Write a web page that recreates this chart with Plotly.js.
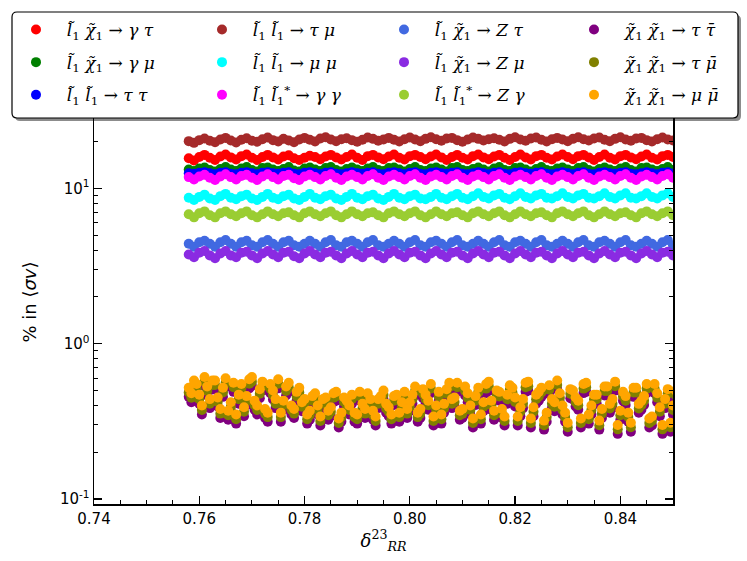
<!DOCTYPE html>
<html>
<head>
<meta charset="utf-8">
<script src="https://cdn.plot.ly/plotly-3.0.1.min.js"></script>
<style>html,body{margin:0;padding:0;background:#fff;}#chart{width:747px;height:561px;}</style>
</head>
<body>
<div id="chart"></div>
<script>
// ---- data ----
const delta = [
0.758,0.759,0.760,0.761,0.762,0.763,0.764,0.765,0.766,0.767,
0.768,0.769,0.770,0.771,0.772,0.773,0.774,0.775,0.776,0.777,
0.778,0.779,0.780,0.781,0.782,0.783,0.784,0.785,0.786,0.787,
0.788,0.789,0.790,0.791,0.792,0.793,0.794,0.795,0.796,0.797,
0.798,0.799,0.800,0.801,0.802,0.803,0.804,0.805,0.806,0.807,
0.808,0.809,0.810,0.811,0.812,0.813,0.814,0.815,0.816,0.817,
0.818,0.819,0.820,0.821,0.822,0.823,0.824,0.825,0.826,0.827,
0.828,0.829,0.830,0.831,0.832,0.833,0.834,0.835,0.836,0.837,
0.838,0.839,0.840,0.841,0.842,0.843,0.844,0.845,0.846,0.847,
0.848,0.849,0.850,0.851];
const deltaHalf = [
0.7585,0.7595,0.7605,0.7615,0.7625,0.7635,0.7645,0.7655,0.7665,0.7675,
0.7685,0.7695,0.7705,0.7715,0.7725,0.7735,0.7745,0.7755,0.7765,0.7775,
0.7785,0.7795,0.7805,0.7815,0.7825,0.7835,0.7845,0.7855,0.7865,0.7875,
0.7885,0.7895,0.7905,0.7915,0.7925,0.7935,0.7945,0.7955,0.7965,0.7975,
0.7985,0.7995,0.8005,0.8015,0.8025,0.8035,0.8045,0.8055,0.8065,0.8075,
0.8085,0.8095,0.8105,0.8115,0.8125,0.8135,0.8145,0.8155,0.8165,0.8175,
0.8185,0.8195,0.8205,0.8215,0.8225,0.8235,0.8245,0.8255,0.8265,0.8275,
0.8285,0.8295,0.8305,0.8315,0.8325,0.8335,0.8345,0.8355,0.8365,0.8375,
0.8385,0.8395,0.8405,0.8415,0.8425,0.8435,0.8445,0.8455,0.8465,0.8475,
0.8485,0.8495,0.8505,0.8515];

const gammaTau = [
15.6,15.1,15.9,16.4,15.7,15.2,16.0,16.5,15.8,15.3,
16.1,16.5,15.7,15.2,15.9,16.4,15.8,15.3,16.0,16.3,
15.6,15.2,15.7,16.2,15.9,15.4,16.0,16.4,15.8,15.3,
15.9,16.5,15.7,15.2,16.1,16.4,15.8,15.4,16.0,16.5,
15.7,15.3,16.1,16.4,15.9,15.4,16.0,16.5,15.8,15.2,
15.9,16.4,15.7,15.3,16.1,16.5,15.8,15.4,16.0,16.4,
15.7,15.2,15.9,16.5,15.8,15.3,16.1,16.4,15.7,15.3,
16.0,16.5,15.9,15.4,16.1,16.4,15.8,15.2,15.9,16.5,
15.7,15.3,16.1,16.4,15.8,15.4,16.0,16.5,15.7,15.3,
16.1,16.4,15.9,15.5];
const gammaMu = [
13.2,12.9,13.4,13.6,13.1,12.8,13.3,13.7,13.2,12.9,
13.4,13.7,13.1,12.8,13.5,13.6,13.2,12.9,13.3,13.7,
13.0,12.8,13.4,13.6,13.2,12.9,13.5,13.7,13.1,12.8,
13.3,13.6,13.2,12.9,13.4,13.7,13.1,12.9,13.5,13.6,
13.2,12.8,13.3,13.7,13.1,12.9,13.4,13.6,13.2,12.8,
13.5,13.7,13.1,12.9,13.3,13.6,13.2,12.8,13.4,13.7,
13.1,12.9,13.5,13.6,13.2,12.8,13.3,13.7,13.1,12.9,
13.4,13.6,13.2,12.9,13.5,13.7,13.1,12.8,13.3,13.6,
13.2,12.9,13.4,13.7,13.1,12.8,13.5,13.6,13.2,12.9,
13.3,13.7,13.1,12.9];
const tauTau = [
12.5,12.4,12.6,12.7,12.5,12.3,12.6,12.7,12.4,12.3,
12.6,12.7,12.5,12.3,12.6,12.7,12.5,12.4,12.6,12.7,
12.4,12.3,12.6,12.7,12.5,12.3,12.6,12.7,12.4,12.3,
12.5,12.7,12.5,12.4,12.6,12.7,12.4,12.3,12.6,12.7,
12.5,12.3,12.6,12.7,12.4,12.3,12.6,12.7,12.5,12.4,
12.6,12.7,12.4,12.3,12.5,12.7,12.5,12.3,12.6,12.7,
12.4,12.3,12.6,12.7,12.5,12.4,12.6,12.7,12.4,12.3,
12.5,12.7,12.5,12.3,12.6,12.7,12.4,12.3,12.6,12.7,
12.5,12.4,12.6,12.7,12.4,12.3,12.5,12.7,12.5,12.3,
12.6,12.7,12.4,12.4];
const tauMu = [
20.1,19.6,20.4,20.9,20.2,19.8,20.6,21.1,20.3,19.7,
20.5,21.0,20.2,19.9,20.7,21.2,20.4,20.0,20.8,20.3,
19.8,20.6,21.1,20.5,20.0,20.9,21.3,20.6,20.1,20.7,
21.0,20.4,19.9,20.5,21.2,20.8,20.2,20.6,21.1,20.5,
20.0,20.7,21.2,20.6,20.1,20.8,21.3,20.7,20.2,20.9,
21.1,20.4,19.9,20.6,21.2,20.8,20.3,20.7,21.0,20.5,
20.0,20.8,21.3,20.6,20.2,20.9,21.2,20.5,20.0,20.7,
21.1,20.6,20.1,20.8,21.3,20.7,20.3,20.9,21.2,20.5,
20.1,20.8,21.3,20.6,20.2,20.9,21.1,20.4,20.0,20.7,
21.2,20.6,20.3,20.9];
const muMu = [
8.7,8.4,8.8,9.1,8.6,8.4,8.9,9.2,8.7,8.5,
8.9,9.1,8.6,8.4,8.8,9.2,8.7,8.5,8.9,9.1,
8.6,8.4,8.8,9.2,8.7,8.5,8.9,9.1,8.6,8.4,
8.8,9.2,8.7,8.5,8.9,9.1,8.6,8.4,8.8,9.2,
8.7,8.5,8.9,9.1,8.6,8.5,8.8,9.2,8.7,8.5,
8.9,9.2,8.7,8.5,8.9,9.3,8.8,8.6,9.0,9.2,
8.7,8.5,8.9,9.3,8.8,8.6,9.0,9.2,8.7,8.6,
8.9,9.3,8.8,8.6,9.0,9.2,8.7,8.6,8.9,9.3,
8.8,8.6,9.0,9.3,8.7,8.6,8.9,9.3,8.8,8.6,
9.0,9.3,8.8,8.7];
const gammaGamma = [
11.8,11.4,11.9,12.2,11.7,11.3,11.9,12.3,11.8,11.4,
12.0,12.2,11.7,11.3,11.9,12.3,11.8,11.4,12.0,12.2,
11.6,11.3,11.9,12.2,11.8,11.4,12.0,12.3,11.7,11.3,
11.9,12.2,11.8,11.4,12.0,12.3,11.7,11.3,11.9,12.2,
11.8,11.4,12.0,12.3,11.7,11.3,11.9,12.2,11.8,11.4,
12.0,12.3,11.7,11.3,11.9,12.2,11.8,11.4,12.0,12.3,
11.7,11.3,11.9,12.2,11.8,11.4,12.0,12.3,11.7,11.3,
11.9,12.2,11.8,11.4,12.0,12.3,11.7,11.3,11.9,12.2,
11.8,11.4,12.0,12.3,11.7,11.3,11.9,12.2,11.8,11.4,
12.0,12.3,11.7,11.5];
const zTau = [
4.40,4.20,4.50,4.60,4.40,4.20,4.50,4.65,4.40,4.20,
4.50,4.60,4.30,4.20,4.50,4.65,4.40,4.20,4.50,4.60,
4.30,4.20,4.40,4.60,4.40,4.20,4.50,4.65,4.30,4.20,
4.50,4.60,4.40,4.20,4.50,4.65,4.30,4.20,4.40,4.60,
4.40,4.20,4.50,4.65,4.30,4.20,4.50,4.60,4.40,4.20,
4.50,4.65,4.30,4.20,4.40,4.60,4.40,4.20,4.50,4.65,
4.30,4.20,4.50,4.60,4.40,4.20,4.50,4.65,4.30,4.20,
4.40,4.60,4.40,4.20,4.50,4.65,4.30,4.20,4.50,4.60,
4.40,4.20,4.50,4.65,4.30,4.20,4.40,4.60,4.40,4.20,
4.50,4.65,4.30,4.30];
const zMu = [
3.75,3.60,3.85,3.95,3.70,3.55,3.80,3.95,3.70,3.60,
3.85,3.90,3.70,3.55,3.80,3.95,3.75,3.60,3.85,3.90,
3.65,3.55,3.80,3.95,3.75,3.60,3.85,3.90,3.70,3.55,
3.80,3.95,3.75,3.60,3.85,3.90,3.70,3.55,3.80,3.95,
3.75,3.60,3.85,3.90,3.70,3.55,3.80,3.95,3.75,3.60,
3.85,3.90,3.70,3.55,3.80,3.95,3.75,3.60,3.85,3.90,
3.70,3.55,3.80,3.95,3.75,3.60,3.85,3.90,3.70,3.55,
3.80,3.95,3.75,3.60,3.85,3.90,3.70,3.55,3.80,3.95,
3.75,3.60,3.85,3.90,3.70,3.55,3.80,3.95,3.75,3.60,
3.85,3.90,3.70,3.60];
const zGamma = [
6.8,6.5,6.9,7.1,6.7,6.5,6.9,7.1,6.8,6.6,
6.9,7.1,6.7,6.5,6.8,7.1,6.8,6.6,6.9,7.0,
6.7,6.5,6.9,7.1,6.8,6.6,6.9,7.1,6.7,6.5,
6.8,7.1,6.8,6.6,6.9,7.0,6.7,6.5,6.9,7.1,
6.8,6.6,6.9,7.1,6.7,6.5,6.8,7.1,6.8,6.6,
6.9,7.0,6.7,6.5,6.9,7.1,6.8,6.6,6.9,7.1,
6.7,6.5,6.8,7.1,6.8,6.6,6.9,7.0,6.7,6.5,
6.9,7.1,6.8,6.6,6.9,7.1,6.7,6.5,6.8,7.1,
6.8,6.6,6.9,7.0,6.7,6.5,6.9,7.1,6.8,6.6,
6.9,7.1,6.7,6.6];

// low group: first block at `delta`, second block at `deltaHalf`
const tauTauBarA = [
0.455,0.508,0.411,0.534,0.385,0.508,0.333,0.525,0.368,0.306,
0.481,0.403,0.534,0.350,0.499,0.315,0.438,0.516,0.376,0.490,
0.333,0.455,0.385,0.324,0.420,0.298,0.394,0.341,0.429,0.315,
0.376,0.411,0.306,0.359,0.420,0.324,0.385,0.438,0.341,0.403,
0.315,0.429,0.368,0.464,0.333,0.411,0.481,0.350,0.306,0.446,
0.385,0.490,0.333,0.420,0.289,0.455,0.368,0.499,0.324,0.429,
0.298,0.473,0.394,0.341,0.490,0.289,0.411,0.455,0.315,0.385,
0.508,0.350,0.271,0.438,0.376,0.481,0.306,0.411,0.280,0.464,
0.359,0.499,0.324,0.403,0.271,0.455,0.376,0.481,0.298,0.420,
0.263,0.446,0.350,0.473];
const tauTauBarB = [
0.420,0.481,0.350,0.464,0.508,0.394,0.455,0.324,0.490,0.411,
0.341,0.516,0.376,0.446,0.333,0.481,0.385,0.315,0.464,0.350,
0.429,0.368,0.306,0.403,0.350,0.385,0.324,0.420,0.289,0.394,
0.350,0.315,0.429,0.333,0.385,0.298,0.403,0.359,0.306,0.411,
0.368,0.333,0.411,0.315,0.446,0.376,0.298,0.429,0.359,0.490,
0.394,0.324,0.464,0.350,0.403,0.306,0.481,0.376,0.438,0.333,
0.411,0.455,0.298,0.385,0.499,0.341,0.429,0.280,0.473,0.368,
0.420,0.315,0.446,0.394,0.289,0.490,0.350,0.411,0.333,0.464,
0.385,0.263,0.429,0.315,0.455,0.359,0.403,0.289,0.481,0.341,
0.385,0.271,0.438,0.324];
const tauMuBarA = [
0.486,0.542,0.439,0.570,0.411,0.542,0.355,0.561,0.393,0.327,
0.514,0.430,0.570,0.374,0.533,0.337,0.468,0.552,0.402,0.524,
0.355,0.486,0.411,0.346,0.449,0.318,0.421,0.365,0.458,0.337,
0.402,0.439,0.327,0.383,0.449,0.346,0.411,0.468,0.365,0.430,
0.337,0.458,0.393,0.496,0.355,0.439,0.514,0.374,0.327,0.477,
0.411,0.524,0.355,0.449,0.309,0.486,0.393,0.533,0.346,0.458,
0.318,0.505,0.421,0.365,0.524,0.309,0.439,0.486,0.337,0.411,
0.542,0.374,0.290,0.468,0.402,0.514,0.327,0.439,0.299,0.496,
0.383,0.533,0.346,0.430,0.290,0.486,0.402,0.514,0.318,0.449,
0.281,0.477,0.374,0.505];
const tauMuBarB = [
0.449,0.514,0.374,0.496,0.542,0.421,0.486,0.346,0.524,0.439,
0.365,0.552,0.402,0.477,0.355,0.514,0.411,0.337,0.496,0.374,
0.458,0.393,0.327,0.430,0.374,0.411,0.346,0.449,0.309,0.421,
0.374,0.337,0.458,0.355,0.411,0.318,0.430,0.383,0.327,0.439,
0.393,0.355,0.439,0.337,0.477,0.402,0.318,0.458,0.383,0.524,
0.421,0.346,0.496,0.374,0.430,0.327,0.514,0.402,0.468,0.355,
0.439,0.486,0.318,0.411,0.533,0.365,0.458,0.299,0.505,0.393,
0.449,0.337,0.477,0.421,0.309,0.524,0.374,0.439,0.355,0.496,
0.411,0.281,0.458,0.337,0.486,0.383,0.430,0.309,0.514,0.365,
0.411,0.290,0.468,0.346];
const muMuBarA = [
0.52,0.58,0.47,0.61,0.44,0.58,0.38,0.60,0.42,0.35,
0.55,0.46,0.61,0.40,0.57,0.36,0.50,0.59,0.43,0.56,
0.38,0.52,0.44,0.37,0.48,0.34,0.45,0.39,0.49,0.36,
0.43,0.47,0.35,0.41,0.48,0.37,0.44,0.50,0.39,0.46,
0.36,0.49,0.42,0.53,0.38,0.47,0.55,0.40,0.35,0.51,
0.44,0.56,0.38,0.48,0.33,0.52,0.42,0.57,0.37,0.49,
0.34,0.54,0.45,0.39,0.56,0.33,0.47,0.52,0.36,0.44,
0.58,0.40,0.31,0.50,0.43,0.55,0.35,0.47,0.32,0.53,
0.41,0.57,0.37,0.46,0.31,0.52,0.43,0.55,0.34,0.48,
0.30,0.51,0.40,0.54];
const muMuBarB = [
0.48,0.55,0.40,0.53,0.58,0.45,0.52,0.37,0.56,0.47,
0.39,0.59,0.43,0.51,0.38,0.55,0.44,0.36,0.53,0.40,
0.49,0.42,0.35,0.46,0.40,0.44,0.37,0.48,0.33,0.45,
0.40,0.36,0.49,0.38,0.44,0.34,0.46,0.41,0.35,0.47,
0.42,0.38,0.47,0.36,0.51,0.43,0.34,0.49,0.41,0.56,
0.45,0.37,0.53,0.40,0.46,0.35,0.55,0.43,0.50,0.38,
0.47,0.52,0.34,0.44,0.57,0.39,0.49,0.32,0.54,0.42,
0.48,0.36,0.51,0.45,0.33,0.56,0.40,0.47,0.38,0.53,
0.44,0.30,0.49,0.36,0.52,0.41,0.46,0.33,0.55,0.39,
0.44,0.31,0.50,0.37];

const seriesLabels = [
  "&nbsp;&nbsp;<i>l̃</i><sub>1</sub> <i>χ̃</i><sub>1</sub> → <i>γ τ</i>",
  "&nbsp;&nbsp;<i>l̃</i><sub>1</sub> <i>χ̃</i><sub>1</sub> → <i>γ μ</i>",
  "&nbsp;&nbsp;<i>l̃</i><sub>1</sub> <i>l̃</i><sub>1</sub> → <i>τ τ</i>",
  "&nbsp;&nbsp;<i>l̃</i><sub>1</sub> <i>l̃</i><sub>1</sub> → <i>τ μ</i>",
  "&nbsp;&nbsp;<i>l̃</i><sub>1</sub> <i>l̃</i><sub>1</sub> → <i>μ μ</i>",
  "&nbsp;&nbsp;<i>l̃</i><sub>1</sub> <i>l̃</i><sub>1</sub><sup>*</sup> → <i>γ γ</i>",
  "&nbsp;&nbsp;<i>l̃</i><sub>1</sub> <i>χ̃</i><sub>1</sub> → <i>Z τ</i>",
  "&nbsp;&nbsp;<i>l̃</i><sub>1</sub> <i>χ̃</i><sub>1</sub> → <i>Z μ</i>",
  "&nbsp;&nbsp;<i>l̃</i><sub>1</sub> <i>l̃</i><sub>1</sub><sup>*</sup> → <i>Z γ</i>",
  "&nbsp;&nbsp;<i>χ̃</i><sub>1</sub> <i>χ̃</i><sub>1</sub> → <i>τ τ̄</i>",
  "&nbsp;&nbsp;<i>χ̃</i><sub>1</sub> <i>χ̃</i><sub>1</sub> → <i>τ μ̄</i>",
  "&nbsp;&nbsp;<i>χ̃</i><sub>1</sub> <i>χ̃</i><sub>1</sub> → <i>μ μ̄</i>"
];
const deltaLow = delta.concat(deltaHalf);
const seriesX = [delta, delta, delta, delta, delta, delta, delta, delta, delta,
                 deltaLow, deltaLow, deltaLow];
const seriesValues = [gammaTau, gammaMu, tauTau, tauMu, muMu, gammaGamma,
                      zTau, zMu, zGamma,
                      tauTauBarA.concat(tauTauBarB),
                      tauMuBarA.concat(tauMuBarB),
                      muMuBarA.concat(muMuBarB)];
const seriesColors = ["#ff0000","#008000","#0000ff","#a52a2a","#00ffff","#ff00ff",
                      "#4169e1","#8a2be2","#9acd32","#800080","#808000","#ffa500"];

const xTickVals = [0.74,0.76,0.78,0.80,0.82,0.84];
const xTickText = ["0.74","0.76","0.78","0.80","0.82","0.84"];
const yTickVals = [0.1,1,10];
const yTickText = ["10<sup>-1</sup>","10<sup>0</sup>","10<sup>1</sup>"];

// ---- geometry helpers (pixel -> paper) ----
const W = 747, H = 561, L = 94, R = 673, T = 100, B = 504;
const px = v => (v - L) / (R - L);
const py = v => (B - v) / (B - T);

const legendNames = ["legend","legend2","legend3","legend4"];
const traces = seriesValues.map((vals, i) => ({
  type: "scatter", mode: "markers",
  x: seriesX[i], y: vals,
  name: seriesLabels[i],
  legend: legendNames[Math.floor(i / 3)],
  legendgroup: "g" + i,
  marker: {color: seriesColors[i], size: 10, line: {width: 0}},
  hoverinfo: "skip"
}));

function roundRect(x0, y0, x1, y1, r) {
  const rx = r / (R - L), ry = r / (B - T);
  const X0 = px(x0), X1 = px(x1), Y0 = py(y0), Y1 = py(y1);
  return `M ${X0 + rx},${Y0} L ${X1 - rx},${Y0} Q ${X1},${Y0} ${X1},${Y0 - ry} ` +
         `L ${X1},${Y1 + ry} Q ${X1},${Y1} ${X1 - rx},${Y1} L ${X0 + rx},${Y1} ` +
         `Q ${X0},${Y1} ${X0},${Y1 + ry} L ${X0},${Y0 - ry} Q ${X0},${Y0} ${X0 + rx},${Y0} Z`;
}

const legFont = {family: "DejaVu Serif, serif", size: 17, color: "#000"};
const colX = [36, 222, 404, 594];
const legendCommon = {
  orientation: "v", bgcolor: "rgba(0,0,0,0)", borderwidth: 0,
  font: legFont, traceorder: "grouped", tracegroupgap: 7.5,
  xanchor: "left", yanchor: "top", itemclick: false, itemdoubleclick: false
};
const layout = {
  width: W, height: H,
  margin: {l: L, r: W - R, t: T, b: H - B, pad: 0},
  paper_bgcolor: "#fff", plot_bgcolor: "#fff",
  showlegend: true,
  font: {family: "DejaVu Sans, sans-serif", size: 15, color: "#000"},
  xaxis: {
    range: [0.74, 0.85], showgrid: false, zeroline: false,
    showline: true, linecolor: "#000", linewidth: 1.5, mirror: "ticks",
    ticks: "inside", ticklen: 8, tickwidth: 1.3, tickcolor: "#000",
    tickmode: "array", tickvals: xTickVals, ticktext: xTickText,
    tickfont: {size: 15},
    minor: {ticks: "inside", ticklen: 4, tickwidth: 1, tickcolor: "#000", dtick: 0.005, tick0: 0.74, showgrid: false},
    title: {text: "<i>δ</i><sup>23</sup><sub><i>RR</i></sub>", font: {family: "DejaVu Serif, serif", size: 18}, standoff: 4}
  },
  yaxis: {
    type: "log", range: [Math.log10(0.093), 1.568], showgrid: false, zeroline: false,
    showline: true, linecolor: "#000", linewidth: 1.5, mirror: "ticks",
    ticks: "inside", ticklen: 8, tickwidth: 1.3, tickcolor: "#000",
    tickmode: "array", tickvals: yTickVals, ticktext: yTickText,
    tickfont: {size: 15},
    minor: {ticks: "inside", ticklen: 4, tickwidth: 1, tickcolor: "#000", showgrid: false,
            tickmode: "array", tickvals: [0.2,0.3,0.4,0.5,0.6,0.7,0.8,0.9,2,3,4,5,6,7,8,9,20,30]},
    title: {text: "% in ⟨<i>σv</i>⟩", font: {size: 18}, standoff: 18}
  },
  shapes: [
    {type: "path", xref: "paper", yref: "paper", layer: "above",
     path: roundRect(15, 15, 741, 121, 5), fillcolor: "rgba(0,0,0,0.45)", line: {width: 0}},
    {type: "path", xref: "paper", yref: "paper", layer: "above",
     path: roundRect(12, 12, 738, 118, 5), fillcolor: "#ffffff", line: {color: "#000", width: 1.2}}
  ]
};
legendNames.forEach((nm, k) => {
  layout[nm] = Object.assign({}, legendCommon, {x: px(colX[k] - 20), y: py(12)});
});

Plotly.newPlot("chart", traces, layout, {staticPlot: true, displayModeBar: false});
</script>
</body>
</html>
